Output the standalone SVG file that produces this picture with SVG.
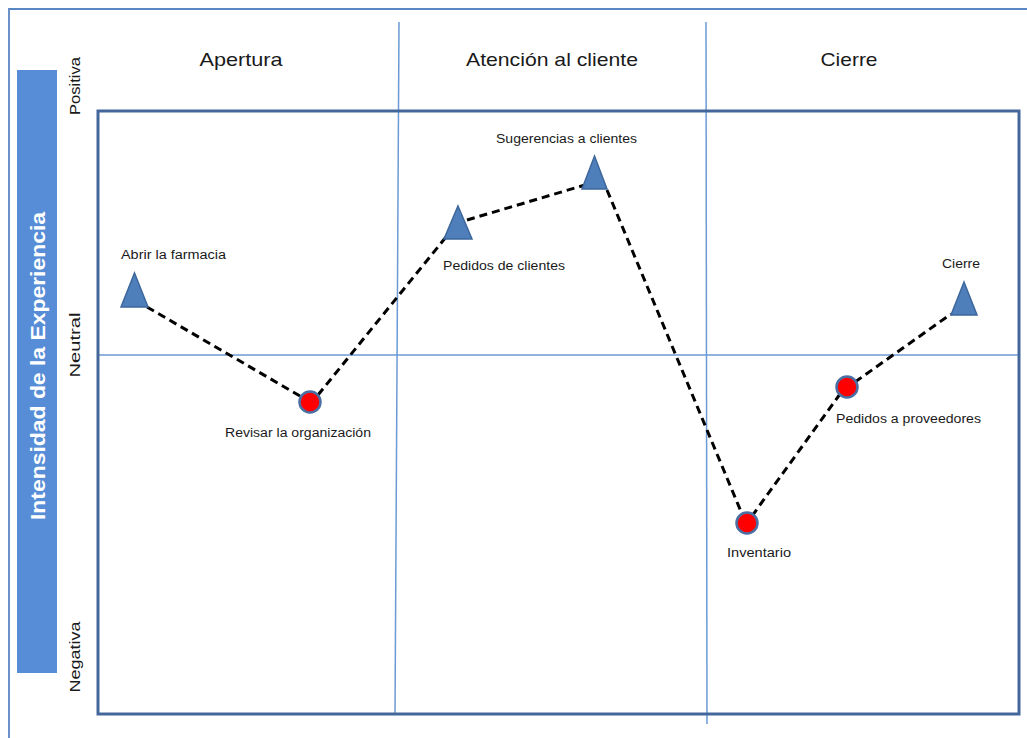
<svg xmlns="http://www.w3.org/2000/svg" width="1027" height="738" viewBox="0 0 1027 738">
<style>
.hdr{font-family:"Liberation Sans",Arial,sans-serif;font-size:19px;fill:#1a1a1a;text-anchor:middle}
.axis{font-family:"Liberation Sans",Arial,sans-serif;font-size:14px;fill:#1a1a1a;text-anchor:middle}
.lbl{font-family:"Liberation Sans",Arial,sans-serif;font-size:12.5px;fill:#1a1a1a}
.tri{fill:#4f7fbb;stroke:#3d679c;stroke-width:1.5}
.dot{fill:#ff0000;stroke:#4a6fa5;stroke-width:2.5}
.dash{fill:none;stroke:#000;stroke-width:3;stroke-dasharray:8 5}
.grid{stroke:#6b9ad6;stroke-width:1.5;fill:none}
</style>
<rect width="1027" height="738" fill="#ffffff"/>
<g id="frame">
<path d="M9,738 V9 H1027" fill="none" stroke="#5b86c4" stroke-width="1.8"/>
<line class="grid" x1="399" y1="22" x2="395" y2="715"/>
<line class="grid" x1="706" y1="22" x2="707" y2="724"/>
<line class="grid" x1="98" y1="355" x2="1019" y2="355"/>
<rect x="98" y="111" width="921" height="603" fill="none" stroke="#43679a" stroke-width="3"/>
</g>
<g id="headers">
<text class="hdr" x="241" y="66" textLength="83" lengthAdjust="spacingAndGlyphs">Apertura</text>
<text class="hdr" x="552" y="66" textLength="172" lengthAdjust="spacingAndGlyphs">Atención al cliente</text>
<text class="hdr" x="849" y="66" textLength="57" lengthAdjust="spacingAndGlyphs">Cierre</text>
</g>
<g id="yaxis">
<rect x="17" y="70" width="40" height="603" fill="#578dd6"/>
<text x="0" y="0" transform="translate(45,366) rotate(-90)" font-family="'Liberation Sans',Arial,sans-serif" font-size="20" font-weight="bold" fill="#ffffff" text-anchor="middle" textLength="308" lengthAdjust="spacingAndGlyphs">Intensidad de la Experiencia</text>
<text class="axis" transform="translate(80,86) rotate(-90)" textLength="58" lengthAdjust="spacingAndGlyphs">Positiva</text>
<text class="axis" transform="translate(80,345) rotate(-90)" textLength="65" lengthAdjust="spacingAndGlyphs">Neutral</text>
<text class="axis" transform="translate(80,657) rotate(-90)" textLength="71" lengthAdjust="spacingAndGlyphs">Negativa</text>
</g>
<g id="connectors">
<line class="dash" x1="147" y1="307" x2="300" y2="396"/>
<line class="dash" x1="318" y1="395" x2="446" y2="237"/>
<line class="dash" x1="467" y1="220" x2="585" y2="185"/>
<line class="dash" x1="607" y1="190" x2="742" y2="514"/>
<line class="dash" x1="752" y1="516" x2="840" y2="394"/>
<line class="dash" x1="855" y1="382" x2="951" y2="314"/>
</g>
<g id="n-abrir">
<polygon class="tri" points="134.5,273 148,307 121,307"/>
<text class="lbl" x="121" y="259" textLength="105" lengthAdjust="spacingAndGlyphs">Abrir la farmacia</text>
</g>
<g id="n-revisar">
<circle class="dot" cx="310" cy="402" r="10.5"/>
<text class="lbl" x="225" y="437" textLength="146" lengthAdjust="spacingAndGlyphs">Revisar la organización</text>
</g>
<g id="n-pedidos-clientes">
<polygon class="tri" points="458,206 472,239 444,239"/>
<text class="lbl" x="443" y="270" textLength="122" lengthAdjust="spacingAndGlyphs">Pedidos de clientes</text>
</g>
<g id="n-sugerencias">
<polygon class="tri" points="594.5,156 607,189 582,189"/>
<text class="lbl" x="496" y="143" textLength="141" lengthAdjust="spacingAndGlyphs">Sugerencias a clientes</text>
</g>
<g id="n-inventario">
<circle class="dot" cx="747" cy="523" r="10.5"/>
<text class="lbl" x="727" y="557" textLength="64" lengthAdjust="spacingAndGlyphs">Inventario</text>
</g>
<g id="n-pedidos-proveedores">
<circle class="dot" cx="847" cy="387" r="10.5"/>
<text class="lbl" x="836" y="423" textLength="145" lengthAdjust="spacingAndGlyphs">Pedidos a proveedores</text>
</g>
<g id="n-cierre">
<polygon class="tri" points="964,282 977,315 951,315"/>
<text class="lbl" x="942" y="268" textLength="38" lengthAdjust="spacingAndGlyphs">Cierre</text>
</g>
</svg>
